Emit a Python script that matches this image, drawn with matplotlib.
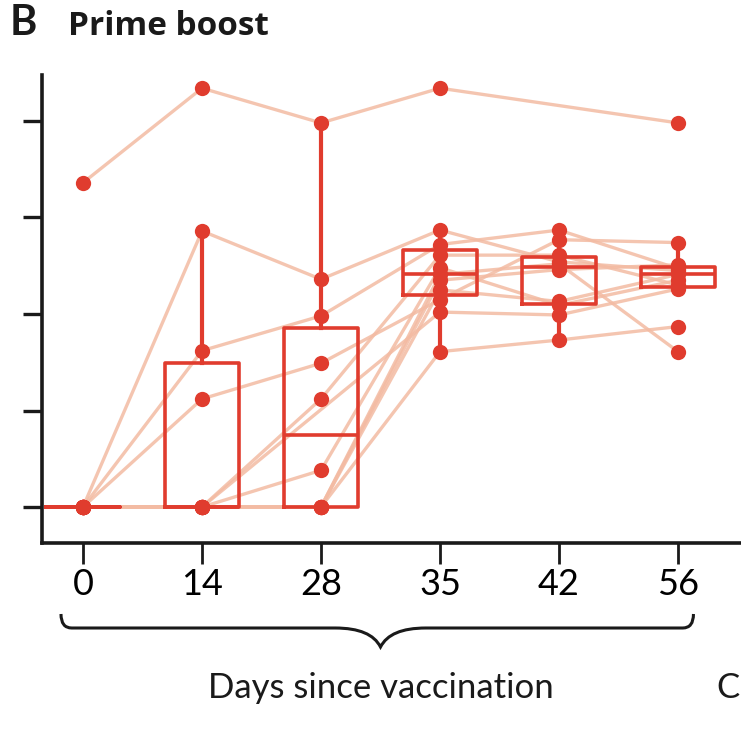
import numpy as np
import matplotlib
matplotlib.use('Agg')
import matplotlib.pyplot as plt
from matplotlib.transforms import blended_transform_factory
from matplotlib.path import Path
from matplotlib.patches import PathPatch

plt.rcParams['font.family'] = ['Lato', 'DejaVu Sans']

days = ['0', '14', '28', '35', '42', '56']
nan = np.nan
# per-participant values (log titre scale) at each visit; nan = no sample
subj_A = [4.36, 5.34, 4.98, 5.34, nan, 4.98]
subj_B = [1.00, 3.86, 3.36, 3.87, 3.54, 3.45]
subj_C = [1.00, 2.62, 2.98, 3.72, 3.87, 3.47]
subj_D = [1.00, 2.12, 2.49, 3.15, 3.77, 3.74]
subj_E = [1.00, 1.00, 2.12, 3.61, 3.61, 3.30]
subj_F = [1.00, 1.00, 1.38, 3.48, 3.09, 3.35]
subj_G = [1.00, 1.00, 1.00, 3.41, 3.52, 2.61]
subj_H = [1.00, 1.00, 1.00, 3.35, 3.46, 3.51]
subj_I = [1.00, 1.00, 1.00, 3.25, 3.13, 3.41]
subj_J = [1.00, 1.00, nan, 3.02, 2.99, 3.26]
subj_K = [1.00, nan, 1.00, 2.61, 2.73, 2.87]
subjects = [subj_A, subj_B, subj_C, subj_D, subj_E, subj_F,
            subj_G, subj_H, subj_I, subj_J, subj_K]
yticks = [1, 2, 3, 4, 5]

RED = '#E03C2E'
FAINT = '#F3BBA3'

W = H = 741
fig = plt.figure(figsize=(W / 100, H / 100), dpi=100)
ax_left, ax_right, ax_top, ax_bot = 42, 741, 75, 543
ax = fig.add_axes([ax_left / W, 1 - ax_bot / H,
                   (ax_right - ax_left) / W, (ax_bot - ax_top) / H])

arr = np.array(subjects, dtype=float)
xpos = np.arange(len(days))

# individual trajectories
for row in arr:
    m = ~np.isnan(row)
    ax.plot(xpos[m], row[m], color=FAINT, lw=2.4, alpha=0.85, zorder=1,
            solid_capstyle='butt')

# box plots
data = [arr[:, j][~np.isnan(arr[:, j])] for j in range(len(days))]
ax.boxplot(data, positions=xpos, widths=0.62, whis=1.5, showfliers=False,
           showcaps=False,
           boxprops=dict(color=RED, lw=2.6),
           whiskerprops=dict(color=RED, lw=3.0),
           medianprops=dict(color=RED, lw=2.6),
           zorder=2)

# points
for j in range(len(days)):
    ax.plot(np.full(len(data[j]), xpos[j]), data[j], 'o', color=RED,
            ms=11, mec='none', zorder=3)

ax.set_xlim((ax_left - 83) / 119, (ax_right - 83) / 119)
ax.set_ylim(1 - (ax_bot - 507) / 96.5, 1 + (507 - ax_top) / 96.5)
ax.set_xticks(xpos)
ax.set_xticklabels(days, fontsize=26)
ax.set_yticks(yticks)
ax.set_yticklabels([])
for s in ['top', 'right']:
    ax.spines[s].set_visible(False)
for s in ['left', 'bottom']:
    ax.spines[s].set_linewidth(2.6)
    ax.spines[s].set_color('#1a1a1a')
ax.tick_params(axis='y', length=14, width=2.4, color='#1a1a1a')
ax.tick_params(axis='x', length=15, width=2.0, color='#1a1a1a', pad=3)

# brace below the ticks
tr = blended_transform_factory(ax.transData, fig.transFigure)
def fy(p):
    return 1 - p / H
x0, x1, xm = -0.185, 5.13, 2.5
r = 0.09
yt, yl, ytip = fy(614), fy(628), fy(647)
verts = [(x0, yt), (x0, yl), (x0 + r, yl),
         (xm - 0.38, yl),
         (xm - 0.08, yl), (xm, ytip),
         (xm + 0.08, yl), (xm + 0.38, yl),
         (x1 - r, yl),
         (x1, yl), (x1, yt)]
codes = [Path.MOVETO, Path.CURVE3, Path.CURVE3,
         Path.LINETO,
         Path.CURVE3, Path.CURVE3,
         Path.CURVE3, Path.CURVE3,
         Path.LINETO,
         Path.CURVE3, Path.CURVE3]
brace = PathPatch(Path(verts, codes), transform=tr, fill=False,
                  lw=2.2, ec='#1a1a1a', clip_on=False)
fig.add_artist(brace)

ax.text(2.5, fy(698), 'Days since vaccination', transform=tr,
        ha='center', va='baseline', fontsize=25, color='#1a1a1a')
fig.text(716 / W, fy(698), 'C', ha='left', va='baseline', fontsize=25,
         color='#1a1a1a')

fig.text(10 / W, fy(35), 'B', ha='left', va='baseline', fontsize=30,
         fontweight='bold', color='#1a1a1a')
fig.text(68 / W, fy(35), 'Prime boost', ha='left', va='baseline',
         fontsize=24, fontweight='bold', color='#1a1a1a',
         family=['Open Sans', 'DejaVu Sans'])

fig.savefig('out.png', dpi=100)
